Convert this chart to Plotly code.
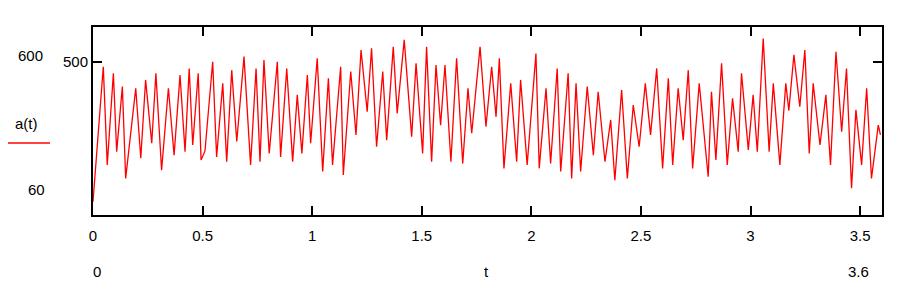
import plotly.graph_objects as go

# Signal a(t) (extrema points)
t_vals = [0.000, 0.047, 0.065, 0.093, 0.108, 0.134, 0.149, 0.169, 0.195, 0.218,
          0.240, 0.268, 0.287, 0.313, 0.344, 0.370, 0.397, 0.420, 0.439,
          0.455, 0.480, 0.493, 0.511, 0.546, 0.564, 0.592, 0.610, 0.633, 0.656,
          0.689, 0.719, 0.744, 0.762, 0.780, 0.804, 0.841, 0.856, 0.884,
          0.911, 0.932, 0.953, 0.978, 0.993, 1.023, 1.048, 1.074, 1.093, 1.130,
          1.142, 1.176, 1.200, 1.223, 1.251, 1.271, 1.294, 1.322, 1.340,
          1.370, 1.388, 1.420, 1.454, 1.474, 1.504, 1.522, 1.545, 1.565, 1.586,
          1.606, 1.633, 1.659, 1.687, 1.711, 1.728, 1.766, 1.793,
          1.819, 1.839, 1.854, 1.875, 1.906, 1.933, 1.951, 1.981, 2.021, 2.036,
          2.067, 2.088, 2.118, 2.134, 2.168, 2.184, 2.204, 2.225, 2.255,
          2.283, 2.305, 2.336, 2.362, 2.381, 2.412, 2.438, 2.465, 2.492, 2.520,
          2.544, 2.572, 2.599, 2.625, 2.645, 2.670, 2.693, 2.716,
          2.736, 2.766, 2.807, 2.822, 2.842, 2.868, 2.894, 2.918, 2.944, 2.959,
          2.990, 3.012, 3.031, 3.058, 3.085, 3.104, 3.134, 3.161, 3.175,
          3.198, 3.225, 3.248, 3.268, 3.286, 3.317, 3.344, 3.365, 3.390, 3.416,
          3.438, 3.461, 3.481, 3.507, 3.530, 3.552, 3.583, 3.593]
a_vals = [98, 486, 204, 467, 242, 429, 165, 271, 424, 223,
          448, 266, 467, 189, 424, 232, 462, 242, 481,
          261, 467, 218, 244, 500, 227, 438, 213, 476, 271,
          515, 204, 481, 213, 505, 237, 500, 227, 481,
          213, 405, 237, 462, 266, 510, 185, 453, 204, 486,
          175, 472, 290, 534, 357, 539, 256, 472, 275,
          543, 352, 563, 285, 496, 237, 543, 213, 491, 318,
          491, 213, 510, 208, 424, 295, 543, 314,
          486, 342, 510, 194, 438, 213, 448, 204, 524, 194,
          424, 208, 481, 185, 467, 165, 438, 185, 429,
          232, 414, 213, 333, 160, 419, 165, 376, 256, 438,
          290, 481, 194, 453, 204, 424, 275, 476,
          194, 438, 170, 414, 218, 496, 204, 395, 242, 467,
          247, 405, 242, 567, 242, 438, 204, 438, 360,
          520, 371, 534, 237, 438, 261, 405, 204, 529, 299,
          481, 137, 362, 204, 424, 165, 318, 290]

x_ticks = [0, 0.5, 1, 1.5, 2, 2.5, 3, 3.5]
x_tick_text = ["0", "0.5", "1", "1.5", "2", "2.5", "3", "3.5"]
y_ticks = [500]
y_tick_text = ["500"]

FONT = dict(family="Liberation Sans, Arial, sans-serif", size=15, color="black")

fig = go.Figure()
fig.add_trace(go.Scatter(x=t_vals, y=a_vals, mode="lines",
                         line=dict(color="#ff0000", width=1.3),
                         showlegend=False, hoverinfo="skip"))

fig.update_layout(
    width=915, height=300,
    margin=dict(l=93, r=33, t=27, b=85),
    paper_bgcolor="white", plot_bgcolor="white",
    font=FONT,
    xaxis=dict(range=[0, 3.6], tickvals=x_ticks, ticktext=x_tick_text,
               showgrid=False, zeroline=False, showline=True, linecolor="black",
               linewidth=2, mirror="ticks", ticks="inside", ticklen=9,
               tickwidth=2, tickcolor="black", ticklabelstandoff=6, tickfont=FONT),
    yaxis=dict(range=[60, 600], tickvals=y_ticks, ticktext=y_tick_text,
               showgrid=False, zeroline=False, showline=True, linecolor="black",
               linewidth=2, mirror="ticks", ticks="inside", ticklen=9,
               tickwidth=2, tickcolor="black", tickfont=FONT),
)

def ann(text, x, y, xanchor="center"):
    fig.add_annotation(text=text, x=x, y=y, xref="paper", yref="paper",
                       showarrow=False, xanchor=xanchor, yanchor="middle", font=FONT)

ann("600", -0.0798, 0.846)
ann("60", -0.071, 0.133)
ann("a(t)", -0.0837, 0.489)
ann("0", 0.005, -0.298)
ann("t", 0.499, -0.298)
ann("3.6", 0.9696, -0.298)

fig.add_shape(type="line", xref="paper", yref="paper",
              x0=-0.1077, x1=-0.0545, y0=0.383, y1=0.383,
              line=dict(color="#ff0000", width=1.3))

fig.write_html("out.html", config={"displayModeBar": False},
               post_script="document.body.style.margin='0';document.body.style.overflow='hidden';")
